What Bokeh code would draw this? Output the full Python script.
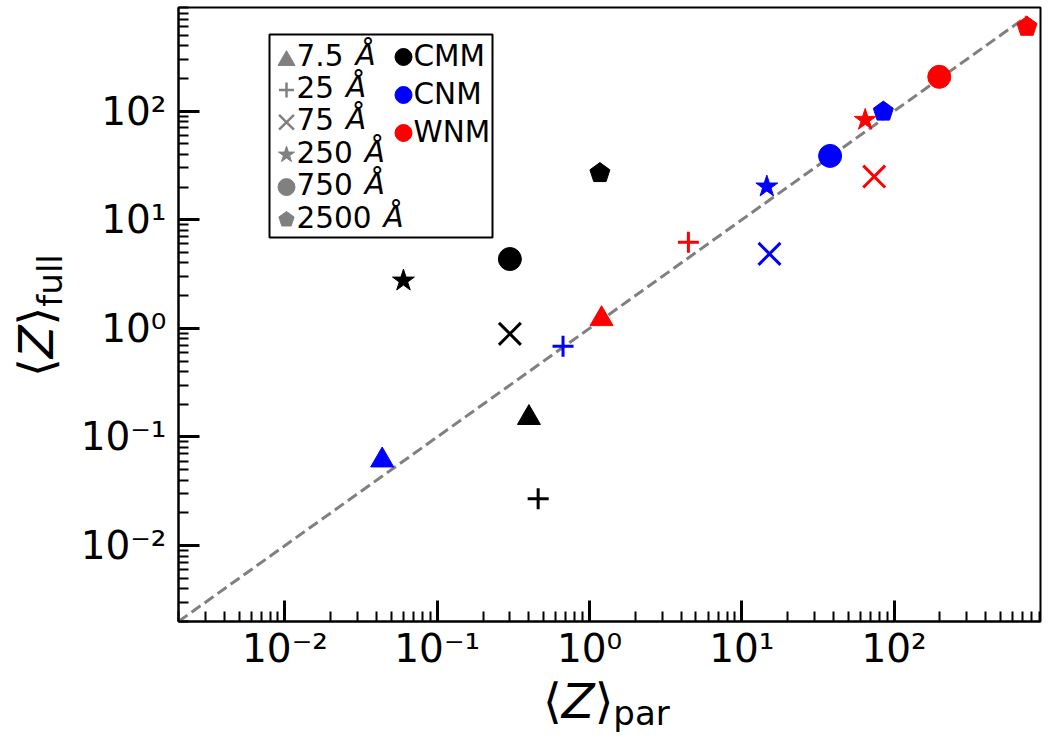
import math

from bokeh.embed import file_html
from bokeh.layouts import column, row
from bokeh.models import (BoxAnnotation, CustomJSTickFormatter, Div,
                          FixedTicker, Label, Range1d)
from bokeh.plotting import figure
from bokeh.resources import INLINE

# grain sizes (one marker each) and ISM phases (one colour each)
grain_numbers = ["7.5", "25", "75", "250", "750", "2500"]
grain_unit = "Å"
grain_markers = ["triangle", "cross", "x", "star", "circle", "pentagon"]
phase_labels = ["CMM", "CNM", "WNM"]
phase_colors = ["black", "blue", "red"]

# mean charge from the partial model vs the full model, per grain size
zpar_cmm = [0.40, 0.46, 0.30, 0.060, 0.30, 1.17]
zfull_cmm = [0.150, 0.027, 0.89, 2.75, 4.35, 26.9]
zpar_cnm = [0.0435, 0.67, 15.2, 14.6, 38.0, 85.0]
zfull_cnm = [0.061, 0.685, 4.85, 20.2, 38.7, 99.0]
zpar_wnm = [1.20, 4.46, 74.0, 64.6, 198.0, 746.0]
zfull_wnm = [1.22, 6.2, 25.0, 83.0, 207.0, 598.0]

x_lo, x_hi = 0.002, 915.0
y_lo, y_hi = 0.002, 900.0

major_ticks = [1e-2, 1e-1, 1.0, 1e1, 1e2]
minor_ticks = [k * 10.0 ** d for d in range(-3, 3) for k in range(2, 10)]

FONT = "DejaVu Sans"
W, H = 1050, 750
YLAB_W = 70            # strip left of the figure holding the y title
FIG_H = 675            # figure height; the x title sits underneath
FRAME_L, FRAME_R, FRAME_T, FRAME_B = 178, 1040, 7, 621   # page pixels

p = figure(width=W - YLAB_W, height=FIG_H, x_axis_type="log", y_axis_type="log",
           x_range=Range1d(x_lo, x_hi), y_range=Range1d(y_lo, y_hi),
           output_backend="svg", toolbar_location=None,
           min_border_left=FRAME_L - YLAB_W, min_border_right=W - FRAME_R,
           min_border_top=FRAME_T, min_border_bottom=FIG_H - FRAME_B,
           margin=0)
p.grid.visible = False
p.background_fill_color = "white"
p.border_fill_color = "white"
p.outline_line_color = "black"
p.outline_line_width = 2

sup_code = r"""
const e = Math.round(Math.log10(tick));
const sup = {"-": "\u207b", "0": "\u2070", "1": "\u00b9", "2": "\u00b2", "3": "\u00b3"};
return "10" + String(e).split("").map((c) => sup[c]).join("");
"""

for ax in (p.xaxis[0], p.yaxis[0]):
    ax.ticker = FixedTicker(ticks=major_ticks, minor_ticks=minor_ticks)
    ax.formatter = CustomJSTickFormatter(code=sup_code)
    ax.major_tick_in = 21
    ax.major_tick_out = 0
    ax.minor_tick_in = 10
    ax.minor_tick_out = 0
    ax.major_tick_line_width = 3
    ax.minor_tick_line_width = 2
    ax.major_tick_line_color = "black"
    ax.minor_tick_line_color = "black"
    ax.axis_line_width = 2
    ax.axis_line_color = "black"
    ax.major_label_text_font = FONT
    ax.major_label_text_font_size = "39px"
    ax.major_label_text_color = "black"
p.xaxis.major_label_standoff = 4
p.yaxis.major_label_standoff = 12


def to_data(cx, cy):
    """Page pixel position inside the frame -> log-axis data position."""
    lx0, lx1 = math.log10(x_lo), math.log10(x_hi)
    ly0, ly1 = math.log10(y_lo), math.log10(y_hi)
    fx = (cx - FRAME_L) / (FRAME_R - FRAME_L)
    fy = (FRAME_B - cy) / (FRAME_B - FRAME_T)
    return 10 ** (lx0 + fx * (lx1 - lx0)), 10 ** (ly0 + fy * (ly1 - ly0))


# one-to-one reference line
all_par = zpar_cmm + zpar_cnm + zpar_wnm
p.line(x=[x_lo, max(all_par)], y=[y_lo, max(all_par)],
       line_color="gray", line_width=3, line_dash="11 5")


def draw(kind, xs, ys, color, size, lw):
    if kind == "pentagon":
        return p.ngon(x=xs, y=ys, radius=size * 0.5, radius_units="screen",
                      n=5, angle=0.0, fill_color=color, line_color=color)
    if kind in ("cross", "x"):
        return p.scatter(x=xs, y=ys, marker=kind, size=size,
                         line_color=color, line_width=lw)
    return p.scatter(x=xs, y=ys, marker=kind, size=size,
                     fill_color=color, line_color=color)


phase_data = [(zpar_cmm, zfull_cmm), (zpar_cnm, zfull_cnm), (zpar_wnm, zfull_wnm)]
marker_size = {"triangle": 23, "cross": 21, "x": 31, "star": 23,
               "circle": 23, "pentagon": 21}
for (xs, ys), color in zip(phase_data, phase_colors):
    for i, kind in enumerate(grain_markers):
        draw(kind, [xs[i]], [ys[i]], color, marker_size[kind], 3)

# ---- legend box: grain-size keys (grey) and phase keys (coloured dots)
p.add_layout(BoxAnnotation(left=269 - FRAME_L, right=492 - FRAME_L,
                           top=FRAME_B - 34, bottom=FRAME_B - 237,
                           left_units="screen", right_units="screen",
                           top_units="screen", bottom_units="screen",
                           fill_color=None, line_color="black",
                           line_alpha=1.0, line_width=2))

key_size = {"triangle": 17, "cross": 15, "x": 21, "star": 17,
            "circle": 17, "pentagon": 16}
key_drop = {"triangle": 3.0}     # triangles are anchored at their centroid
char_em = {".": 0.318}
LEG_PX = 29.5
TEXT_RAISE = 11.5                # label anchor sits this far below the baseline


def text_at(cx, base, text, size, style="normal"):
    x, y = to_data(cx, base - TEXT_RAISE)
    p.add_layout(Label(x=x, y=y, text=text, text_font=FONT,
                       text_font_size=f"{size}px", text_font_style=style,
                       text_color="black", text_align="left",
                       text_baseline="alphabetic"))


row0, pitch = 65.5, 32.4
for i, (num, kind) in enumerate(zip(grain_numbers, grain_markers)):
    base = row0 + i * pitch
    kx, ky = to_data(286, base - 8.5 + key_drop.get(kind, 0.0))
    draw(kind, [kx], [ky], "gray", key_size[kind], 2.5)
    text_at(296, base, num, LEG_PX)
    num_w = sum(char_em.get(c, 0.636) for c in num) * LEG_PX
    text_at(296 + num_w + 12, base, grain_unit, LEG_PX, "italic")

for i, (name, color) in enumerate(zip(phase_labels, phase_colors)):
    base = 67 + i * 38
    kx, ky = to_data(403, base - 10.5)
    p.scatter(x=[kx], y=[ky], marker="circle", size=17,
              fill_color=color, line_color=color)
    text_at(413, base, name, LEG_PX)

# ---- axis titles: <Z> with a subscript, as HTML text beside the figure
TITLE_STYLE = ("position:absolute; white-space:nowrap; line-height:1; "
               f"font-family:'{FONT}'; font-size:48px; color:black;")


def title_html(sub, sub_drop):
    return ("⟨<i>Z</i>⟩<span style=\"font-size:34px; position:relative; "
            f"top:{sub_drop}px;\">{sub}</span>")


# baseline sits 40.6 px below the top of a 48px, line-height:1 box
x_title = Div(width=W - YLAB_W, height=H - FIG_H, margin=0, text=(
    f"<div style=\"position:relative; width:{W - YLAB_W}px; height:{H - FIG_H}px;\">"
    f"<span style=\"{TITLE_STYLE} left:{543 - YLAB_W}px; top:{718 - FIG_H - 40.6}px;\">"
    f"{title_html('par', 7)}</span></div>"))

y_title = Div(width=YLAB_W, height=H, margin=0, text=(
    f"<div style=\"position:relative; width:{YLAB_W}px; height:{H}px;\">"
    f"<span style=\"{TITLE_STYLE} left:{53 - 40.6}px; top:377px; "
    "transform-origin:0 0; transform:rotate(-90deg);\">"
    f"{title_html('full', 9)}</span></div>"))

page = row(y_title, column(p, x_title, spacing=0), spacing=0)

open("out.html", "w", encoding="utf-8").write(file_html(page, INLINE))
